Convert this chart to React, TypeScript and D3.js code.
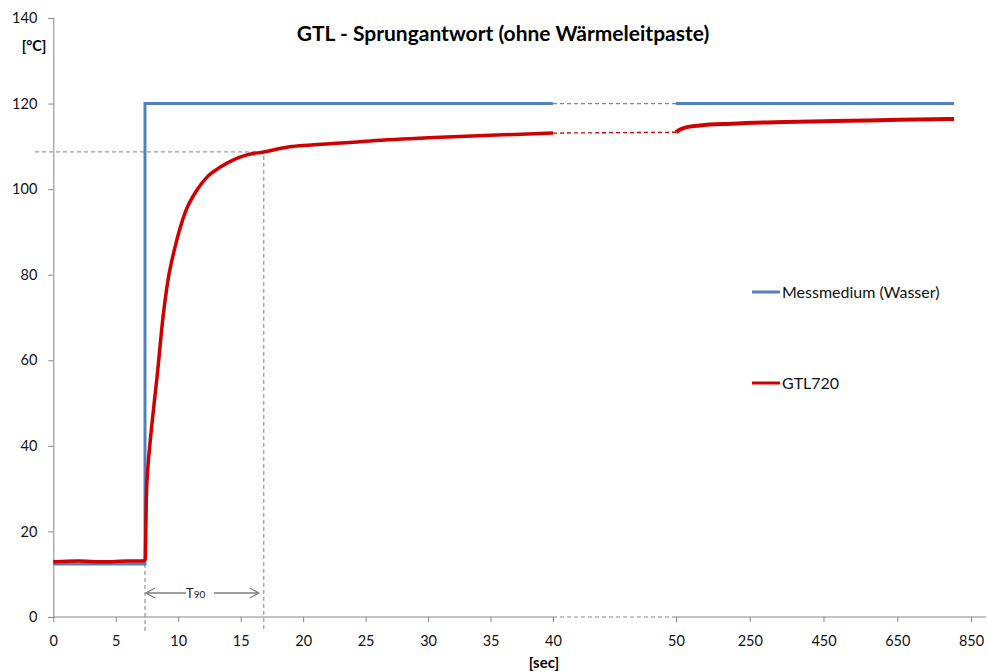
import React, { useEffect, useRef } from 'react';
import * as d3 from 'd3';

// x ticks: linear 0-40 s, a gap, then 50..850 s on a compressed scale
const xTicks = [0, 5, 10, 15, 20, 25, 30, 35, 40, 50, 250, 450, 650, 850];
const yTicks = [0, 20, 40, 60, 80, 100, 120, 140];

// Messmedium (Wasser)
const waterTimeA = [0, 7.34, 7.34, 40];
const waterTempA = [12.4, 12.4, 120, 120];
const waterTimeB = [50, 804];
const waterTempB = [120, 120];

// GTL720
const gtlTimeA = [0, 2, 4, 6, 7.2, 7.36, 7.45, 7.6, 7.74, 8.0, 8.3, 8.78, 9.18, 9.74, 10.54, 11.5, 12.3, 13.34, 14.38, 15.5, 16.85, 18.7, 20, 23.7, 25, 30, 35, 40];
const gtlTempA = [12.9, 13.1, 12.9, 13.1, 13.1, 13.5, 28, 36, 40.6, 48, 56, 70, 78.7, 86.4, 94.4, 99.8, 102.8, 105.1, 106.8, 108, 108.7, 109.8, 110.2, 110.9, 111.2, 112, 112.6, 113.1];
const gtlTimeB = [50, 60, 80, 115, 200, 297, 476, 657, 804];
const gtlTempB = [113.3, 113.9, 114.5, 114.9, 115.3, 115.6, 115.9, 116.2, 116.4];

// T90 marks
const stepTime = 7.34;
const t90Time = 16.85;
const t90Temp = 108.7;

const FONT = 'Lato, "Open Sans", sans-serif';

const App = () => {
  const svgRef = useRef<SVGSVGElement>(null);

  useEffect(() => {
    const svg = d3.select(svgRef.current);
    svg.selectAll('*').remove();

    const x = d3.scaleLinear().domain([0, 40, 50, 850]).range([53.3, 553, 676, 971]);
    const y = d3.scaleLinear().domain([0, 140]).range([617, 18]);
    const axisColor = '#868686';

    // title
    svg.append('text')
      .attr('x', 503).attr('y', 41)
      .attr('text-anchor', 'middle')
      .style('font-family', FONT).style('font-weight', 'bold').style('font-size', '21px')
      .text('GTL - Sprungantwort (ohne Wärmeleitpaste)');

    // y axis
    const yAxis = svg.append('g').attr('transform', 'translate(53.3,0)')
      .call(d3.axisLeft(y).tickValues(yTicks).tickSize(5).tickPadding(11));
    yAxis.select('.domain').attr('stroke', axisColor);
    yAxis.selectAll('.tick line').attr('stroke', axisColor);
    yAxis.selectAll('.tick text').style('font-family', FONT).style('font-size', '14.5px').attr('fill', '#111');

    svg.append('text')
      .attr('x', 34).attr('y', 51).attr('text-anchor', 'middle')
      .style('font-family', FONT).style('font-weight', 'bold').style('font-size', '14.5px')
      .text('[°C]');

    // x axis: solid, dashed gap, solid
    const xAxis = svg.append('g').attr('transform', `translate(0,${y(0)})`)
      .call(d3.axisBottom(x).tickValues(xTicks).tickSize(5).tickPadding(14).tickFormat(d3.format('d')));
    xAxis.select('.domain').remove();
    xAxis.selectAll('.tick line').attr('stroke', axisColor);
    xAxis.selectAll('.tick text').style('font-family', FONT).style('font-size', '14.5px').attr('fill', '#111');
    xAxis.append('line').attr('x1', x(0)).attr('x2', x(40)).attr('stroke', axisColor);
    xAxis.append('line').attr('x1', x(40)).attr('x2', x(50)).attr('stroke', axisColor).attr('stroke-dasharray', '4,3');
    xAxis.append('line').attr('x1', x(50)).attr('x2', 986).attr('stroke', axisColor);

    svg.append('text')
      .attr('x', 544).attr('y', 668).attr('text-anchor', 'middle')
      .style('font-family', FONT).style('font-weight', 'bold').style('font-size', '15px')
      .text('[sec]');

    // T90 reference lines
    const refColor = '#808080';
    svg.append('line')
      .attr('x1', 35).attr('x2', x(t90Time)).attr('y1', y(t90Temp)).attr('y2', y(t90Temp))
      .attr('stroke', refColor).attr('stroke-dasharray', '4,3');
    svg.append('line')
      .attr('x1', x(t90Time)).attr('x2', x(t90Time)).attr('y1', y(t90Temp) + 4).attr('y2', 630)
      .attr('stroke', refColor).attr('stroke-dasharray', '4,3');
    svg.append('line')
      .attr('x1', x(stepTime)).attr('x2', x(stepTime)).attr('y1', y(waterTempA[0])).attr('y2', 633)
      .attr('stroke', refColor).attr('stroke-dasharray', '4,3');

    // T90 arrows
    const ay = 593;
    const ax1 = x(stepTime) + 1;
    const ax2 = x(t90Time) - 5;
    svg.append('path')
      .attr('d', `M${ax1 + 9},${ay - 5}L${ax1},${ay}L${ax1 + 9},${ay + 5}M${ax1},${ay}H${ax1 + 40}`)
      .attr('fill', 'none').attr('stroke', refColor).attr('stroke-width', 1.3);
    svg.append('path')
      .attr('d', `M${ax2 - 9},${ay - 5}L${ax2},${ay}L${ax2 - 9},${ay + 5}M${ax2},${ay}H${ax2 - 45}`)
      .attr('fill', 'none').attr('stroke', refColor).attr('stroke-width', 1.3);
    const t90Label = svg.append('text')
      .attr('x', ax1 + 40).attr('y', ay + 5)
      .style('font-family', FONT).style('font-size', '13px').attr('fill', '#222');
    t90Label.append('tspan').text('T');
    t90Label.append('tspan').style('font-size', '10px').text('90');

    const line = d3.line<[number, number]>().x(d => x(d[0])).y(d => y(d[1]));
    const smooth = d3.line<[number, number]>().x(d => x(d[0])).y(d => y(d[1])).curve(d3.curveMonotoneX);
    const pairs = (t: number[], v: number[]) => t.map((ti, i) => [ti, v[i]] as [number, number]);

    const blue = '#4f81bd';
    const red = '#d00000';

    // connecting dashed segments across the gap
    svg.append('path')
      .attr('d', line([[40, waterTempA[waterTempA.length - 1]], [50, waterTempB[0]]]))
      .attr('fill', 'none').attr('stroke', '#7b8aa3').attr('stroke-width', 1.3).attr('stroke-dasharray', '4,3');
    svg.append('path')
      .attr('d', line([[40, gtlTempA[gtlTempA.length - 1]], [50, gtlTempB[0]]]))
      .attr('fill', 'none').attr('stroke', red).attr('stroke-width', 1.3).attr('stroke-dasharray', '4,3');

    // Messmedium
    svg.append('path').attr('d', line(pairs(waterTimeA, waterTempA)))
      .attr('fill', 'none').attr('stroke', blue).attr('stroke-width', 3);
    svg.append('path').attr('d', line(pairs(waterTimeB, waterTempB)))
      .attr('fill', 'none').attr('stroke', blue).attr('stroke-width', 3);

    // GTL720
    svg.append('path').attr('d', smooth(pairs(gtlTimeA, gtlTempA)))
      .attr('fill', 'none').attr('stroke', red).attr('stroke-width', 3.5).attr('stroke-linejoin', 'round');
    svg.append('path').attr('d', smooth(pairs(gtlTimeB, gtlTempB)))
      .attr('fill', 'none').attr('stroke', red).attr('stroke-width', 4).attr('stroke-linejoin', 'round');

    // legend
    const legend = [
      { name: 'Messmedium (Wasser)', color: blue, y: 292 },
      { name: 'GTL720', color: red, y: 383 },
    ];
    legend.forEach(l => {
      svg.append('line').attr('x1', 752).attr('x2', 780).attr('y1', l.y).attr('y2', l.y)
        .attr('stroke', l.color).attr('stroke-width', 3);
      svg.append('text').attr('x', 782).attr('y', l.y + 5.5)
        .style('font-family', FONT).style('font-size', '16px').attr('fill', '#111')
        .text(l.name);
    });
  }, []);

  return (
    <svg ref={svgRef} width={988} height={671}
      style={{ position: 'absolute', left: 0, top: 0, background: '#fff' }} />
  );
};

export default App;
